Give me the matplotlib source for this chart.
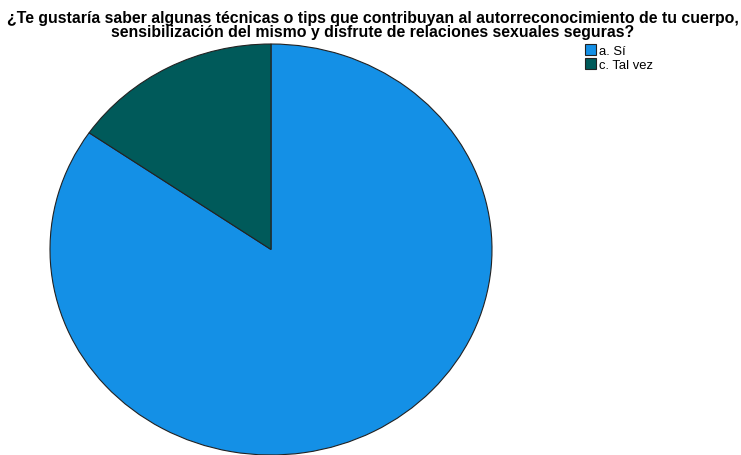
import matplotlib
matplotlib.use("Agg")
import matplotlib.pyplot as plt

plt.rcParams['font.family'] = ['Liberation Sans', 'DejaVu Sans']

categories = ["a. Sí", "c. Tal vez"]
counts = [11, 2]
colors = ["#1490E6", "#005A5A"]
title_lines = [
    "¿Te gustaría saber algunas técnicas o tips que contribuyan al autorreconocimiento de tu cuerpo,",
    "sensibilización del mismo y disfrute de relaciones sexuales seguras?",
]

W, H = 741, 456
fig = plt.figure(figsize=(W / 100, H / 100), dpi=100)

# pie area in pixel terms: x 50..492, y 45..456 (from top)
ax = fig.add_axes([50 / W, 0 / H, 442 / W, 411 / H])
wedges, _ = ax.pie(counts, colors=colors, startangle=90, counterclock=False,
                   wedgeprops=dict(edgecolor="#222222", linewidth=0.8))
ax.set_aspect('auto')
ax.set_xlim(-1.0, 1.0)
ax.set_ylim(-1.0, 1.0)
ax.axis('off')
for w in wedges:
    w.set_clip_on(False)

# two-line bold title, baselines placed in pixels from the top
for line, base in zip(title_lines, [22.5, 36.5]):
    fig.text(372.5 / W, 1 - base / H, line, ha='center', va='baseline',
             fontsize=11.4, fontweight='bold')

fig.legend(wedges, categories, loc='upper left',
           bbox_to_anchor=(585 / W, 1 - 45 / H), frameon=False,
           fontsize=9.4, handlelength=0.85, handleheight=0.9,
           handletextpad=0.2, labelspacing=0.1, borderpad=0, borderaxespad=0)

fig.savefig("out.png", dpi=100, facecolor="white")
